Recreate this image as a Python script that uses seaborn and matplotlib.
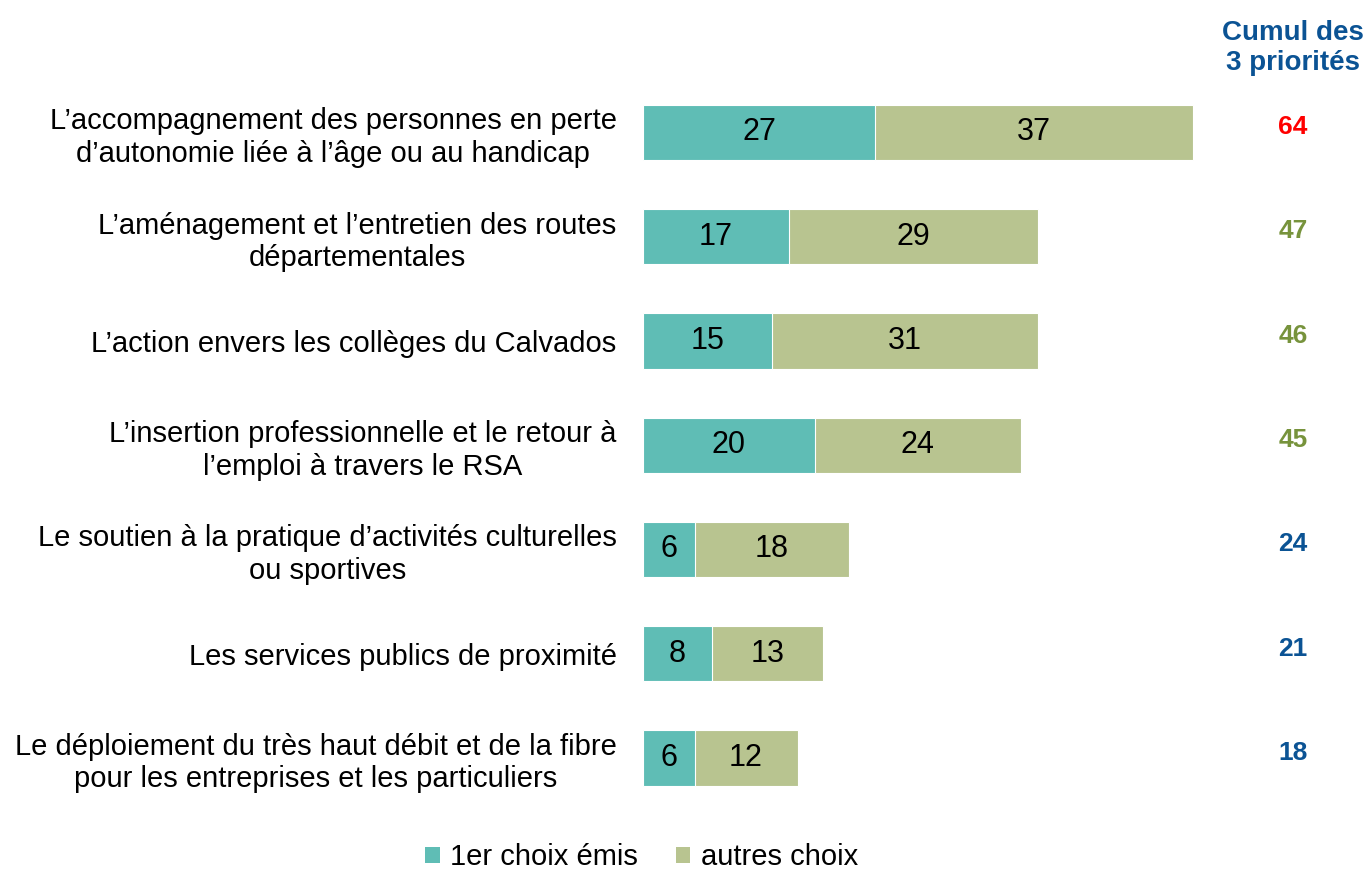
import matplotlib
matplotlib.use("Agg")
import matplotlib.pyplot as plt
import matplotlib.transforms as mtransforms
from matplotlib.patches import Patch
import pandas as pd
import seaborn as sns

# data
categories = [
    "L’accompagnement des personnes en perte\nd’autonomie liée à l’âge ou au handicap",
    "L’aménagement et l’entretien des routes\ndépartementales",
    "L’action envers les collèges du Calvados",
    "L’insertion professionnelle et le retour à\nl’emploi à travers le RSA",
    "Le soutien à la pratique d’activités culturelles\nou sportives",
    "Les services publics de proximité",
    "Le déploiement du très haut débit et de la fibre\npour les entreprises et les particuliers",
]
premier_choix = [27, 17, 15, 20, 6, 8, 6]
autres_choix = [37, 29, 31, 24, 18, 13, 12]
cumul = [64, 47, 46, 45, 24, 21, 18]
legend_labels = ["1er choix émis", "autres choix"]

TEAL = "#5fbdb5"
OLIVE = "#b8c490"
BLUE = "#0b5394"
GREEN = "#77933c"
RED = "#ff0000"

df = pd.DataFrame({
    "categorie": categories,
    "premier": premier_choix,
    "autres": autres_choix,
})
df["total"] = df["premier"] + df["autres"]

sns.set_theme(style="white")
plt.rcParams["font.family"] = ["Liberation Sans", "DejaVu Sans"]
plt.rcParams["text.color"] = "black"

fig = plt.figure(figsize=(13.71, 8.73), dpi=100)
ax = fig.add_axes([0.469, 0.072, 0.4385, 0.836])

# stacked bars: total first (autres colour), then 1er choix over it
sns.barplot(data=df, y="categorie", x="total", color=OLIVE, saturation=1,
            width=0.53, ax=ax, edgecolor="white", linewidth=0.8)
sns.barplot(data=df, y="categorie", x="premier", color=TEAL, saturation=1,
            width=0.53, ax=ax, edgecolor="white", linewidth=0.8)

ax.bar_label(ax.containers[1], labels=[str(v) for v in premier_choix],
             label_type="center", fontsize=22, color="black")
for i, (p, a) in enumerate(zip(premier_choix, autres_choix)):
    ax.text(p + a / 2, i, str(a), ha="center", va="center", fontsize=22, color="black")

ax.set_xlim(0, 70)
ax.set_ylim(6.5, -0.5)
ax.set_xlabel("")
ax.set_ylabel("")
ax.set_xticks([])
ax.tick_params(axis="y", length=0, pad=19, labelsize=21)
for lbl in ax.get_yticklabels():
    lbl.set_multialignment("center")
    lbl.set_color("black")
sns.despine(ax=ax, left=True, bottom=True)

# column of totals on the right
trans = mtransforms.blended_transform_factory(fig.transFigure, ax.transData)
for i, c in enumerate(cumul):
    col = RED if c >= 60 else (GREEN if c >= 40 else BLUE)
    ax.text(0.943, i - 0.05, str(c), transform=trans, ha="center", va="center",
            fontsize=19, fontweight="bold", color=col)
fig.text(0.943, 0.977, "Cumul des\n3 priorités", ha="center", va="top",
         fontsize=20, fontweight="bold", color=BLUE, linespacing=1.2)

handles = [Patch(facecolor=TEAL, edgecolor="none"), Patch(facecolor=OLIVE, edgecolor="none")]
fig.legend(handles, legend_labels, loc="lower center", bbox_to_anchor=(0.468, -0.028),
           ncol=2, frameon=False, fontsize=21, handlelength=0.5, handleheight=0.5,
           handletextpad=0.35, columnspacing=1.3, labelcolor="black")

fig.savefig("out.png", dpi=100)
